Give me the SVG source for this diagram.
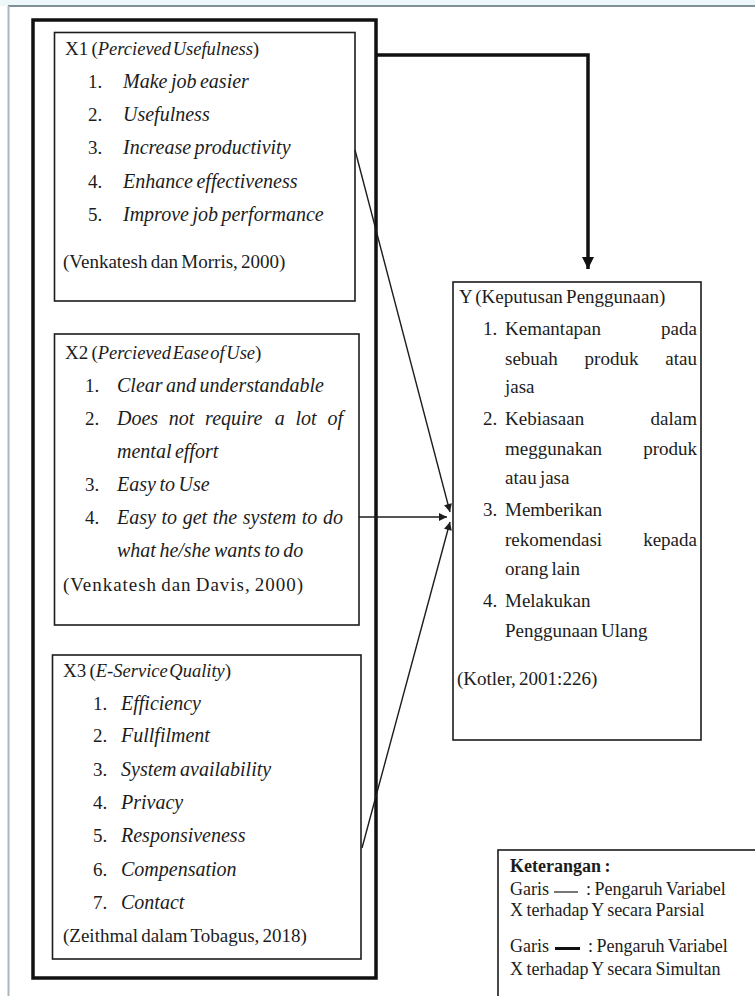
<svg xmlns="http://www.w3.org/2000/svg" width="755" height="996" viewBox="0 0 755 996">
<style>
.t{font-family:"Liberation Serif","Times New Roman",serif;font-size:19px;fill:#1c1c1c;word-spacing:-1.5px}
.i{font-style:italic;font-size:20px}
.ti{font-style:italic;font-size:18.5px;word-spacing:-3px}
.b{font-weight:bold}
.lg{font-size:18px;word-spacing:-1px}
.box{fill:#fff;stroke:#1c1c1c;stroke-width:1.6}
.frame{fill:none;stroke:#111;stroke-width:3.5}
.thin{fill:none;stroke:#1c1c1c;stroke-width:1.4}
.thick{fill:none;stroke:#111;stroke-width:3.5}
</style>
<defs>
<marker id="ah" viewBox="0 0 10 10" refX="10" refY="5" markerWidth="10" markerHeight="8" markerUnits="userSpaceOnUse" orient="auto">
<path d="M0,0 L10,5 L0,10 z" fill="#1c1c1c"/>
</marker>
<marker id="ahT" viewBox="0 0 10 10" refX="10" refY="5" markerWidth="12" markerHeight="13" markerUnits="userSpaceOnUse" orient="auto">
<path d="M0,0 L10,5 L0,10 z" fill="#111"/>
</marker>
</defs>
<rect x="0" y="0" width="755" height="996" fill="#fff"/>
<rect x="0" y="0" width="755" height="6" fill="#eef7fa"/>
<line x1="8" y1="6" x2="755" y2="6" stroke="#7f9197" stroke-width="2"/>
<line x1="8.5" y1="6" x2="8.5" y2="996" stroke="#a8b7bc" stroke-width="2"/>

<g id="frame">
<rect class="frame" x="33" y="20" width="343" height="958"/>
</g>

<g id="x1">
<rect class="box" x="54.5" y="32.5" width="300.5" height="268.5"/>
<text class="t" x="65" y="55">X1 (<tspan class="ti">Percieved Usefulness</tspan>)</text>
<text class="t" x="88" y="88">1.</text><text class="t i" x="123" y="88">Make job easier</text>
<text class="t" x="88" y="121">2.</text><text class="t i" x="123" y="121">Usefulness</text>
<text class="t" x="88" y="154">3.</text><text class="t i" x="123" y="154">Increase productivity</text>
<text class="t" x="88" y="187.5">4.</text><text class="t i" x="123" y="187.5">Enhance effectiveness</text>
<text class="t" x="88" y="221">5.</text><text class="t i" x="123" y="221">Improve job performance</text>
<text class="t" x="63" y="268">(Venkatesh dan Morris, 2000)</text>
</g>

<g id="x2">
<rect class="box" x="54.5" y="334" width="304.5" height="291"/>
<text class="t" x="65" y="359">X2 (<tspan class="ti">Percieved Ease of Use</tspan>)</text>
<text class="t" x="85" y="391.5">1.</text><text class="t i" x="117" y="391.5">Clear and understandable</text>
<text class="t" x="85" y="424.5">2.</text>
<text class="t i" y="424.5"><tspan x="117">Does</tspan><tspan x="168.8">not</tspan><tspan x="205.1">require</tspan><tspan x="274.7">a</tspan><tspan x="295.4">lot</tspan><tspan x="327.4">of</tspan></text>
<text class="t i" x="117" y="457.5">mental effort</text>
<text class="t" x="85" y="490.5">3.</text><text class="t i" x="117" y="490.5">Easy to Use</text>
<text class="t" x="85" y="524">4.</text>
<text class="t i" y="524"><tspan x="117">Easy</tspan><tspan x="161.5">to</tspan><tspan x="182.7">get</tspan><tspan x="212.7">the</tspan><tspan x="242.8">system</tspan><tspan x="301.7">to</tspan><tspan x="323">do</tspan></text>
<text class="t i" x="117" y="556.5">what he/she wants to do</text>
<text class="t" x="63" y="591" textLength="240" lengthAdjust="spacing">(Venkatesh dan Davis, 2000)</text>
</g>

<g id="x3">
<rect class="box" x="52.5" y="655" width="308.5" height="304"/>
<text class="t" x="63" y="676.5">X3 (<tspan class="ti">E-Service Quality</tspan>)</text>
<text class="t" x="93" y="709.5">1.</text><text class="t i" x="121" y="709.5">Efficiency</text>
<text class="t" x="93" y="741.5">2.</text><text class="t i" x="121" y="741.5">Fullfilment</text>
<text class="t" x="93" y="775.5">3.</text><text class="t i" x="121" y="775.5">System availability</text>
<text class="t" x="93" y="808.5">4.</text><text class="t i" x="121" y="808.5">Privacy</text>
<text class="t" x="93" y="841.5">5.</text><text class="t i" x="121" y="841.5">Responsiveness</text>
<text class="t" x="93" y="875.5">6.</text><text class="t i" x="121" y="875.5">Compensation</text>
<text class="t" x="93" y="908.5">7.</text><text class="t i" x="121" y="908.5">Contact</text>
<text class="t" x="63" y="941.5">(Zeithmal dalam Tobagus, 2018)</text>
</g>

<g id="y">
<rect class="box" x="453" y="282" width="248" height="458"/>
<text class="t" x="459" y="303">Y (Keputusan Penggunaan)</text>
<text class="t" x="483" y="335">1.</text>
<text class="t" y="335"><tspan x="505">Kemantapan</tspan><tspan x="661">pada</tspan></text>
<text class="t" y="365"><tspan x="505">sebuah</tspan><tspan x="584.6">produk</tspan><tspan x="665.3">atau</tspan></text>
<text class="t" x="505" y="393">jasa</text>
<text class="t" x="483" y="425">2.</text>
<text class="t" y="425"><tspan x="505">Kebiasaan</tspan><tspan x="650.6">dalam</tspan></text>
<text class="t" y="455"><tspan x="505">meggunakan</tspan><tspan x="643.2">produk</tspan></text>
<text class="t" x="505" y="484">atau jasa</text>
<text class="t" x="483" y="516">3.</text><text class="t" x="505" y="516">Memberikan</text>
<text class="t" y="546"><tspan x="505">rekomendasi</tspan><tspan x="643.2">kepada</tspan></text>
<text class="t" x="505" y="575">orang lain</text>
<text class="t" x="483" y="607">4.</text><text class="t" x="505" y="607">Melakukan</text>
<text class="t" x="505" y="637">Penggunaan Ulang</text>
<text class="t" x="457" y="685">(Kotler, 2001:226)</text>
</g>

<g id="connectors">
<path class="thick" d="M377,55 H588 V269" marker-end="url(#ahT)"/>
<path class="thin" d="M355,150 L450,512" marker-end="url(#ah)"/>
<path class="thin" d="M359,517 L447,517" marker-end="url(#ah)"/>
<path class="thin" d="M362,848 L450,522" marker-end="url(#ah)"/>
</g>

<g id="legend">
<rect class="box" x="498" y="850" width="300" height="200"/>
<text class="t lg b" x="510" y="872">Keterangan :</text>
<text class="t lg" x="510" y="895">Garis</text>
<line x1="554" y1="892" x2="578" y2="892" stroke="#1c1c1c" stroke-width="1.2"/>
<text class="t lg" x="586" y="895">: Pengaruh Variabel</text>
<text class="t lg" x="510" y="916">X terhadap Y secara Parsial</text>
<text class="t lg" x="510" y="952">Garis</text>
<line x1="555" y1="948.5" x2="580" y2="948.5" stroke="#111" stroke-width="3"/>
<text class="t lg" x="588" y="952">: Pengaruh Variabel</text>
<text class="t lg" x="510" y="975">X terhadap Y secara Simultan</text>
</g>
</svg>
